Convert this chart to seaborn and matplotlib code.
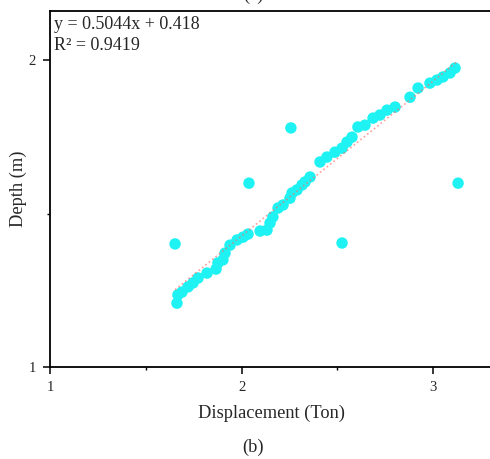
import numpy as np
import pandas as pd
import matplotlib
matplotlib.use("Agg")
import matplotlib.pyplot as plt
import seaborn as sns
from matplotlib.ticker import MultipleLocator

sns.set_style("ticks")
plt.rcParams['font.family'] = ['Liberation Serif', 'DejaVu Serif']

# Data
displacement = [1.663, 1.668, 1.689, 1.721, 1.747, 1.773, 1.820, 1.867, 1.877, 1.903,
                1.914, 1.940, 1.977, 2.008, 2.034, 2.097, 2.133, 2.149, 2.164, 2.191,
                2.217, 2.253, 2.264, 2.290, 2.316, 2.332, 2.358, 2.410, 2.446, 2.488,
                2.525, 2.551, 2.577, 2.608, 2.645, 2.687, 2.723, 2.760, 2.802, 2.880,
                2.922, 2.984, 3.021, 3.052, 3.089, 3.115,
                1.653, 2.039, 2.258, 2.525, 3.131]
depth = [1.208, 1.235, 1.244, 1.261, 1.274, 1.290, 1.306, 1.319, 1.339, 1.349,
         1.371, 1.397, 1.414, 1.423, 1.433, 1.443, 1.446, 1.469, 1.489, 1.518,
         1.528, 1.550, 1.567, 1.577, 1.593, 1.603, 1.619, 1.668, 1.684, 1.700,
         1.713, 1.733, 1.749, 1.782, 1.788, 1.811, 1.821, 1.837, 1.847, 1.879,
         1.909, 1.925, 1.935, 1.945, 1.958, 1.974,
         1.401, 1.599, 1.779, 1.404, 1.599]
slope = 0.5044
intercept = 0.418
r2 = 0.9419
x_ticks = [1, 2, 3]
y_ticks = [1, 2]

df = pd.DataFrame({"Displacement": displacement, "Depth": depth})

fig = plt.figure(figsize=(4.9, 4.59), dpi=100)
ax_w_px = 2.4 * 191.5
ax = fig.add_axes([50/490, 1 - 367/459, ax_w_px/490, (367-11)/459])

sns.scatterplot(data=df, x="Displacement", y="Depth", ax=ax, color="#1ff2f2",
                s=68, edgecolor="none", linewidth=0, zorder=2)

xf = np.array([min(displacement), max(displacement)])
ax.plot(xf, slope*xf + intercept, color="#ff6a6a", lw=1.2, alpha=0.65,
        linestyle=(0, (1, 1.6)), zorder=3)

ax.set_xlim(1, 3.4)
ax.set_ylim(1, 2.16)
ax.set_xticks(x_ticks)
ax.set_yticks(y_ticks)
ax.set_xticklabels([str(t) for t in x_ticks])
ax.set_yticklabels([str(t) for t in y_ticks])
ax.xaxis.set_minor_locator(MultipleLocator(0.5))
ax.yaxis.set_minor_locator(MultipleLocator(0.5))
ax.tick_params(which='major', direction='out', length=5, width=1.1, labelsize=10.5, pad=5, color='black')
ax.tick_params(which='minor', direction='out', length=2.5, width=1.0, color='black')
for sp in ax.spines.values():
    sp.set_linewidth(1.3)
    sp.set_color('black')

ax.set_xlabel("Displacement (Ton)", fontsize=13.2)
ax.set_ylabel("Depth (m)", fontsize=13.2)
ax.xaxis.set_label_coords((271-50)/ax_w_px, -(413-367)/356, transform=ax.transAxes)
ax.xaxis.label.set_va('center')
ax.yaxis.set_label_coords(-(50-18)/ax_w_px, 0.5, transform=ax.transAxes)
ax.yaxis.label.set_va('center')

ax.text(0.009, 0.985, f"y = {slope}x + {intercept}\nR\u00b2 = {r2}",
        transform=ax.transAxes, ha='left', va='top', fontsize=13, linespacing=1.25)

fig.text(253/490, 1.0, "(a)", ha='center', va='baseline', fontsize=13.2)
fig.text(253/490, 1 - 447/459, "(b)", ha='center', va='center', fontsize=13.2)

fig.savefig("out.png", dpi=100)
